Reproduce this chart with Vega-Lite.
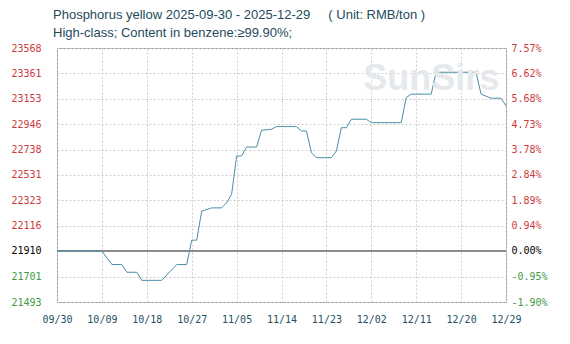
{
  "$schema": "https://vega.github.io/schema/vega-lite/v6.json",
  "width": 449,
  "height": 254,
  "autosize": "none",
  "padding": {"left": 57, "top": 48, "right": 64, "bottom": 42},
  "background": "white",
  "config": {
    "view": {"stroke": "#9a9a9a", "strokeWidth": 1},
    "axis": {"labelFont": "DejaVu Sans Mono", "labelFontSize": 10}
  },
  "title": {
    "text": ["Phosphorus yellow 2025-09-30 - 2025-12-29\u00a0\u00a0\u00a0\u00a0 ( Unit: RMB/ton )", "High-class; Content in benzene:≥99.90%;"],
    "anchor": "start",
    "frame": "group",
    "font": "Liberation Sans",
    "fontSize": 13,
    "fontWeight": "normal",
    "color": "#1e4a5c",
    "lineHeight": 18.5,
    "baseline": "alphabetic",
    "dx": -4,
    "dy": 17,
    "offset": 10
  },
  "data": {
    "values": [
      {"date": "2025-09-30T00:00:00", "price": 21910},
      {"date": "2025-10-09T00:00:00", "price": 21910},
      {"date": "2025-10-11T00:00:00", "price": 21799},
      {"date": "2025-10-13T00:00:00", "price": 21799},
      {"date": "2025-10-14T00:00:00", "price": 21736},
      {"date": "2025-10-16T00:00:00", "price": 21736},
      {"date": "2025-10-17T00:00:00", "price": 21670},
      {"date": "2025-10-21T00:00:00", "price": 21670},
      {"date": "2025-10-24T00:00:00", "price": 21799},
      {"date": "2025-10-26T00:00:00", "price": 21799},
      {"date": "2025-10-27T00:00:00", "price": 21998},
      {"date": "2025-10-28T00:00:00", "price": 21998},
      {"date": "2025-10-29T00:00:00", "price": 22235},
      {"date": "2025-10-31T00:00:00", "price": 22262},
      {"date": "2025-11-02T00:00:00", "price": 22262},
      {"date": "2025-11-03T00:00:00", "price": 22303},
      {"date": "2025-11-04T00:00:00", "price": 22372},
      {"date": "2025-11-05T00:00:00", "price": 22686},
      {"date": "2025-11-06T00:00:00", "price": 22686},
      {"date": "2025-11-07T00:00:00", "price": 22759},
      {"date": "2025-11-09T00:00:00", "price": 22759},
      {"date": "2025-11-10T00:00:00", "price": 22896},
      {"date": "2025-11-12T00:00:00", "price": 22904},
      {"date": "2025-11-13T00:00:00", "price": 22926},
      {"date": "2025-11-17T00:00:00", "price": 22926},
      {"date": "2025-11-18T00:00:00", "price": 22890},
      {"date": "2025-11-19T00:00:00", "price": 22890},
      {"date": "2025-11-20T00:00:00", "price": 22713},
      {"date": "2025-11-21T00:00:00", "price": 22672},
      {"date": "2025-11-24T00:00:00", "price": 22672},
      {"date": "2025-11-25T00:00:00", "price": 22727},
      {"date": "2025-11-26T00:00:00", "price": 22917},
      {"date": "2025-11-27T00:00:00", "price": 22917},
      {"date": "2025-11-28T00:00:00", "price": 22986},
      {"date": "2025-12-01T00:00:00", "price": 22986},
      {"date": "2025-12-02T00:00:00", "price": 22958},
      {"date": "2025-12-08T00:00:00", "price": 22958},
      {"date": "2025-12-09T00:00:00", "price": 23163},
      {"date": "2025-12-10T00:00:00", "price": 23191},
      {"date": "2025-12-14T00:00:00", "price": 23191},
      {"date": "2025-12-15T00:00:00", "price": 23370},
      {"date": "2025-12-23T00:00:00", "price": 23370},
      {"date": "2025-12-24T00:00:00", "price": 23191},
      {"date": "2025-12-26T00:00:00", "price": 23158},
      {"date": "2025-12-28T00:00:00", "price": 23158},
      {"date": "2025-12-29T00:00:00", "price": 23095}
    ]
  },
  "resolve": {"axis": {"y": "independent"}},
  "layer": [
    {
      "mark": {"type": "line", "color": "#4a8fa8", "strokeWidth": 1, "interpolate": "linear"},
      "encoding": {
        "x": {
          "field": "date", "type": "temporal",
          "scale": {"domain": [{"year": 2025, "month": 9, "date": 30}, {"year": 2025, "month": 12, "date": 29}]},
          "axis": {
            "title": null,
            "values": [
              {"year": 2025, "month": 9, "date": 30},
              {"year": 2025, "month": 10, "date": 9},
              {"year": 2025, "month": 10, "date": 18},
              {"year": 2025, "month": 10, "date": 27},
              {"year": 2025, "month": 11, "date": 5},
              {"year": 2025, "month": 11, "date": 14},
              {"year": 2025, "month": 11, "date": 23},
              {"year": 2025, "month": 12, "date": 2},
              {"year": 2025, "month": 12, "date": 11},
              {"year": 2025, "month": 12, "date": 20},
              {"year": 2025, "month": 12, "date": 29}
            ],
            "format": "%m/%d",
            "labelColor": "#1f4f63",
            "labelPadding": 12,
            "ticks": false,
            "domain": false,
            "grid": true,
            "gridColor": "#cccccc",
            "gridDash": [2, 2],
            "labelFlush": false,
            "labelOverlap": false,
            "encode": {"labels": {"update": {"dx": {"signal": "-1.5 - 14 * datum.index"}}}}
          }
        },
        "y": {
          "field": "price", "type": "quantitative",
          "scale": {"domain": [21493, 23568], "nice": false, "zero": false},
          "axis": {
            "title": null,
            "orient": "left",
            "values": [21493, 21701, 21910, 22116, 22323, 22531, 22738, 22946, 23153, 23361, 23568],
            "format": "d",
            "ticks": false,
            "domain": false,
            "labelPadding": 16,
            "grid": true,
            "gridColor": "#cccccc",
            "gridDash": [2, 2],
            "labelFlush": false,
            "labelOverlap": false,
            "labelColor": {"condition": [{"test": "datum.value > 21910", "value": "#cc3b3b"}, {"test": "datum.value < 21910", "value": "#3f9a46"}], "value": "#000000"}
          }
        }
      }
    },
    {
      "mark": {"type": "rule", "color": "#8a8a8a", "strokeWidth": 1},
      "encoding": {"y": {"datum": 21910, "axis": null}}
    },
    {
      "mark": {"type": "line", "color": "#4a8fa8", "strokeWidth": 1},
      "transform": [{"filter": "datum.price == 21910"}],
      "encoding": {
        "x": {"field": "date", "type": "temporal"},
        "y": {"field": "price", "type": "quantitative", "axis": null}
      }
    },
    {
      "mark": {"type": "text", "font": "Liberation Sans", "fontSize": 36, "fontWeight": "bold", "color": "#e6e9ec", "align": "center", "baseline": "alphabetic"},
      "data": {"values": [{"t": "SunSirs", "d": "2025-12-14T00:00:00", "v": 23225}]},
      "encoding": {
        "x": {"field": "d", "type": "temporal"},
        "y": {"field": "v", "type": "quantitative", "axis": null},
        "text": {"field": "t"}
      }
    },
    {
      "mark": {"type": "point", "opacity": 0},
      "encoding": {
        "y": {
          "field": "price", "type": "quantitative",
          "axis": {
            "title": null,
            "orient": "right",
            "values": [21493, 21701, 21910, 22116, 22323, 22531, 22738, 22946, 23153, 23361, 23568],
            "labelExpr": "['-1.90%','-0.95%','0.00%','0.94%','1.89%','2.84%','3.78%','4.73%','5.68%','6.62%','7.57%'][indexof([21493,21701,21910,22116,22323,22531,22738,22946,23153,23361,23568], datum.value)]",
            "ticks": false,
            "domain": false,
            "grid": false,
            "labelPadding": 5,
            "labelFlush": false,
            "labelOverlap": false,
            "labelColor": {"condition": [{"test": "datum.value > 21910", "value": "#cc3b3b"}, {"test": "datum.value < 21910", "value": "#3f9a46"}], "value": "#000000"}
          }
        }
      }
    }
  ]
}
